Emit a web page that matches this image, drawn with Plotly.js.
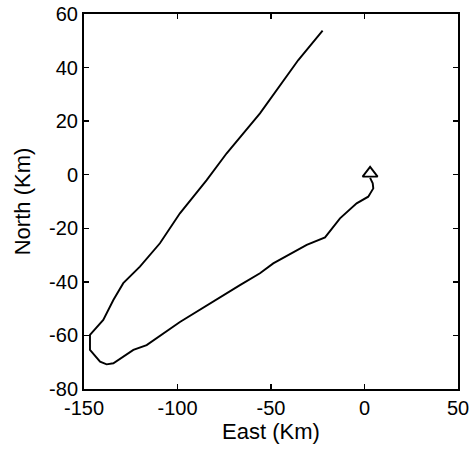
<!DOCTYPE html>
<html>
<head>
<meta charset="utf-8">
<script src="https://cdn.plot.ly/plotly-3.0.1.min.js"></script>
<style>
  html, body { margin: 0; padding: 0; background: #fff; }
  #chart { width: 474px; height: 450px; }
</style>
</head>
<body>
<div id="chart"></div>
<script>
// Track of the vehicle, east/north offsets in km
const eastKm = [-22.4, -35.4, -55.9, -73.7, -84.4, -91.5, -98.7, -109.4, -120.1, -129.0,
                -134.3, -139.7, -145.9, -146.8, -146.8, -141.4, -137.9, -134.3, -123.6, -116.5,
                -98.7, -89.7, -66.6, -55.9, -48.8, -30.9, -21.1, -13.1, -4.2, 2.0,
                4.7, 4.4, 3.0];
const northKm = [53.8, 42.8, 22.9, 8.0, -2.0, -8.2, -14.4, -25.6, -34.3, -40.5,
                 -46.8, -54.2, -59.2, -59.8, -65.4, -69.8, -70.8, -70.4, -65.4, -63.6,
                 -55.0, -51.1, -41.2, -36.8, -33.1, -26.2, -23.4, -16.3, -10.7, -8.2,
                 -5.1, -3.2, -1.2];

// Reference station position
const stationEast = [3.0];
const stationNorth = [0.5];

// Axis ticks and their labels (plain hyphen for negatives)
const eastTicks = [-150, -100, -50, 0, 50];
const eastTickLabels = ['-150', '-100', '-50', '0', '50'];
const northTicks = [-80, -60, -40, -20, 0, 20, 40, 60];
const northTickLabels = ['-80', '-60', '-40', '-20', '0', '20', '40', '60'];

const tickFont = { family: '"Liberation Sans", Arial, sans-serif', size: 20, color: '#000' };
const titleFont = { family: '"Liberation Sans", Arial, sans-serif', size: 22, color: '#000' };

const traces = [
  {
    x: eastKm, y: northKm, type: 'scatter', mode: 'lines',
    line: { color: '#000', width: 1.9 },
    hoverinfo: 'skip'
  },
  {
    x: stationEast, y: stationNorth, type: 'scatter', mode: 'markers',
    marker: { symbol: 'triangle-up-open', size: 13, color: '#000', line: { color: '#000', width: 1.9 } },
    hoverinfo: 'skip'
  }
];

const axisCommon = {
  showgrid: false, zeroline: false,
  showline: true, linecolor: '#000', linewidth: 2,
  mirror: 'ticks', ticks: 'inside', ticklen: 5, tickwidth: 1.5, tickcolor: '#000',
  tickfont: tickFont, tickmode: 'array'
};

const layout = {
  width: 474, height: 450,
  margin: { l: 84, r: 16, t: 14, b: 61, pad: 0 },
  paper_bgcolor: '#fff', plot_bgcolor: '#fff',
  showlegend: false,
  font: tickFont,
  xaxis: Object.assign({}, axisCommon, {
    range: [-150, 50], tickvals: eastTicks, ticktext: eastTickLabels,
    title: { text: 'East (Km)', font: titleFont, standoff: 5 }
  }),
  yaxis: Object.assign({}, axisCommon, {
    range: [-80, 60], tickvals: northTicks, ticktext: northTickLabels,
    title: { text: 'North (Km)', font: titleFont, standoff: 12 }
  })
};

Plotly.newPlot('chart', traces, layout, { staticPlot: true, displayModeBar: false });
</script>
</body>
</html>
